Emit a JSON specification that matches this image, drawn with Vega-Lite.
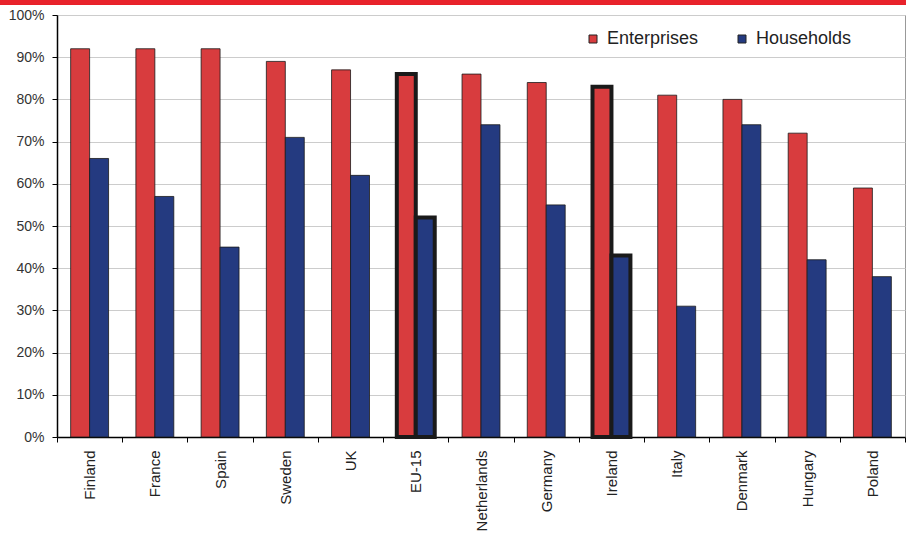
{
  "$schema": "https://vega.github.io/schema/vega-lite/v6.json",
  "width": 848,
  "height": 422,
  "autosize": {"type": "none"},
  "padding": {"left": 57, "top": 15, "right": 1, "bottom": 97},
  "background": "white",
  "config": {
    "font": "Liberation Sans",
    "view": {"stroke": "#999", "strokeWidth": 1}
  },
  "data": {
    "values": [
      {"country": "Finland", "series": "Enterprises", "value": 92},
      {"country": "Finland", "series": "Households", "value": 66},
      {"country": "France", "series": "Enterprises", "value": 92},
      {"country": "France", "series": "Households", "value": 57},
      {"country": "Spain", "series": "Enterprises", "value": 92},
      {"country": "Spain", "series": "Households", "value": 45},
      {"country": "Sweden", "series": "Enterprises", "value": 89},
      {"country": "Sweden", "series": "Households", "value": 71},
      {"country": "UK", "series": "Enterprises", "value": 87},
      {"country": "UK", "series": "Households", "value": 62},
      {"country": "EU-15", "series": "Enterprises", "value": 86},
      {"country": "EU-15", "series": "Households", "value": 52},
      {"country": "Netherlands", "series": "Enterprises", "value": 86},
      {"country": "Netherlands", "series": "Households", "value": 74},
      {"country": "Germany", "series": "Enterprises", "value": 84},
      {"country": "Germany", "series": "Households", "value": 55},
      {"country": "Ireland", "series": "Enterprises", "value": 83},
      {"country": "Ireland", "series": "Households", "value": 43},
      {"country": "Italy", "series": "Enterprises", "value": 81},
      {"country": "Italy", "series": "Households", "value": 31},
      {"country": "Denmark", "series": "Enterprises", "value": 80},
      {"country": "Denmark", "series": "Households", "value": 74},
      {"country": "Hungary", "series": "Enterprises", "value": 72},
      {"country": "Hungary", "series": "Households", "value": 42},
      {"country": "Poland", "series": "Enterprises", "value": 59},
      {"country": "Poland", "series": "Households", "value": 38}
    ]
  },
  "layer": [
    {
      "mark": {"type": "bar", "stroke": "#1a1a1a"},
      "encoding": {
        "x": {
          "field": "country",
          "type": "nominal",
          "sort": null,
          "scale": {"paddingInner": 0, "paddingOuter": 0},
          "axis": {
            "title": null,
            "labelAngle": -90,
            "labelAlign": "right",
            "labelBaseline": "middle",
            "labelFontSize": 15,
            "labelColor": "#222",
            "labelPadding": 8,
            "tickBand": "extent",
            "tickSize": 5,
            "tickColor": "#000",
            "domainColor": "#000",
            "domainWidth": 1.5
          }
        },
        "xOffset": {
          "field": "series",
          "type": "nominal",
          "scale": {"paddingInner": 0, "paddingOuter": 0.72}
        },
        "y": {
          "field": "value",
          "type": "quantitative",
          "scale": {"domain": [0, 100], "nice": false},
          "axis": {
            "title": null,
            "values": [0, 10, 20, 30, 40, 50, 60, 70, 80, 90, 100],
            "labelExpr": "datum.value + '%'",
            "labelFontSize": 14,
            "labelColor": "#333",
            "labelPadding": 8,
            "tickSize": 5,
            "tickColor": "#000",
            "domainColor": "#000",
            "domainWidth": 1.5,
            "gridColor": "#cccccc",
            "gridWidth": 1
          }
        },
        "color": {
          "field": "series",
          "type": "nominal",
          "scale": {"domain": ["Enterprises", "Households"], "range": ["#d83c3e", "#243a80"]},
          "legend": {
            "title": null,
            "orient": "none",
            "direction": "horizontal",
            "legendX": 527,
            "legendY": 15,
            "labelFontSize": 18,
            "labelColor": "#222",
            "labelOffset": 5,
            "columnPadding": 34,
            "symbolType": "square",
            "symbolSize": 64,
            "symbolStrokeColor": "#222",
            "symbolStrokeWidth": 1,
            "symbolOpacity": 1
          }
        },
        "strokeWidth": {
          "condition": {"test": "datum.country === 'EU-15' || datum.country === 'Ireland'", "value": 4},
          "value": 0.8
        }
      }
    },
    {
      "mark": {"type": "rule", "color": "#e8232b", "strokeWidth": 4.5, "clip": false},
      "encoding": {
        "x": {"datum": -57, "type": "quantitative", "scale": {"domain": [0, 848], "nice": false, "zero": false}, "axis": null},
        "x2": {"datum": 849},
        "y": {"datum": 103.1, "type": "quantitative", "scale": {"domain": [0, 100], "nice": false}}
      }
    }
  ],
  "resolve": {"scale": {"x": "independent"}, "axis": {"x": "independent"}}
}
